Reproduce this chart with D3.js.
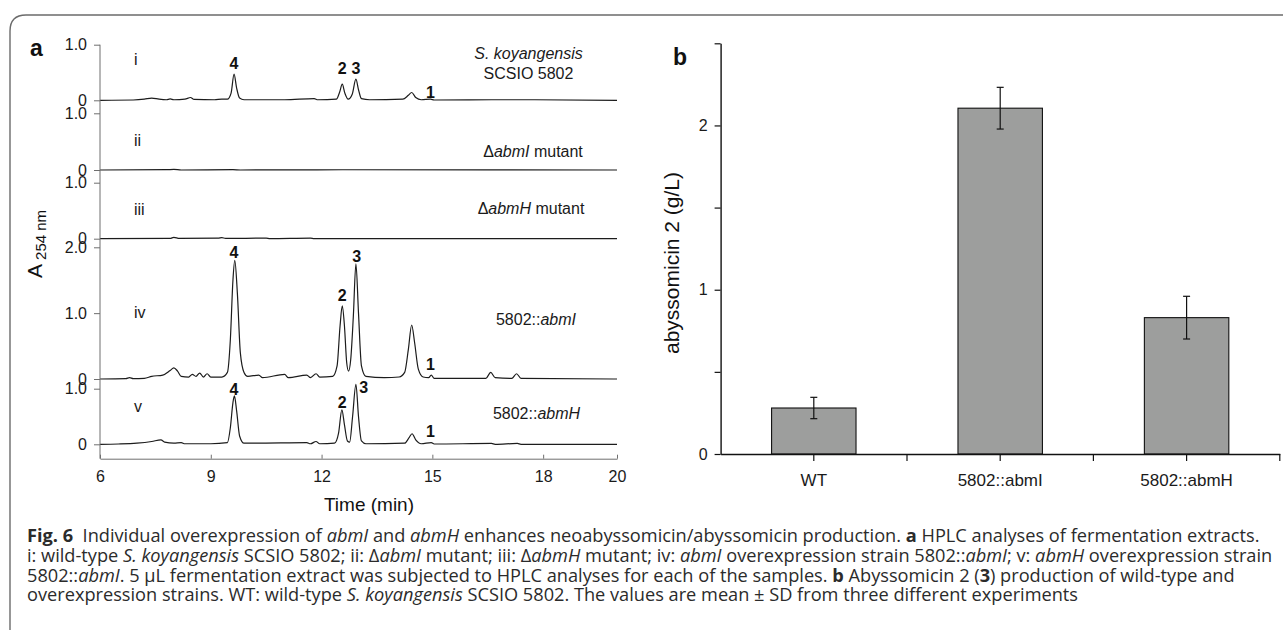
<!DOCTYPE html>
<html>
<head>
<meta charset="utf-8">
<script src="https://cdn.jsdelivr.net/npm/d3@7"></script>
<style>
  body { margin: 0; background: #fff; }
  svg { display: block; }
</style>
</head>
<body>
<svg width="1283" height="630"></svg>
<script>
// ---- panel a : HPLC traces, [time (min), A254]
var timeTicks = [6, 9, 12, 15, 18, 20]
var traceI = [[6, 0], [6.9, 0.005], [7.2, 0.02], [7.4, 0.04], [7.6, 0.02], [7.8, 0.01], [7.9, 0.025], [8.0, 0.01],
  [8.3, 0.02], [8.45, 0.05], [8.55, 0.015], [9.1, 0.01], [9.3, 0.02], [9.45, 0.02], [9.55, 0.13], [9.63, 0.47],
  [9.7, 0.22], [9.78, 0.04], [9.9, 0.01], [11.0, 0.01], [11.8, 0.03], [11.9, 0.01], [12.4, 0.02], [12.49, 0.15],
  [12.56, 0.29], [12.63, 0.13], [12.72, 0.02], [12.83, 0.11], [12.93, 0.38], [13.0, 0.19], [13.08, 0.03], [13.3, 0.01],
  [14.2, 0.02], [14.35, 0.09], [14.44, 0.14], [14.55, 0.05], [14.7, 0.01], [14.95, 0.02], [15.05, 0.005],
  [16.6, 0.01], [17.3, 0.01], [20, 0]]
var traceII = [[6, 0], [7.8, 0.005], [8.0, 0.01], [8.2, 0], [9.6, 0.005], [9.8, 0], [12.6, 0.004], [20, 0]]
var traceIII = [[6, 0], [7.9, 0.005], [8.0, 0.025], [8.15, 0.005], [9.2, 0.01], [9.3, 0.02], [9.4, 0.005],
  [10.5, 0.01], [10.6, 0], [11.7, 0.01], [11.8, 0], [20, 0]]
var traceIV = [[6, 0], [6.7, 0.005], [6.8, 0.02], [6.9, 0.005], [7.2, 0.01], [7.4, 0.04], [7.7, 0.06], [7.9, 0.13],
  [8.0, 0.17], [8.1, 0.12], [8.2, 0.04], [8.4, 0.03], [8.5, 0.07], [8.6, 0.04], [8.7, 0.09], [8.8, 0.03], [8.9, 0.08],
  [9.0, 0.03], [9.3, 0.03], [9.45, 0.1], [9.53, 0.6], [9.6, 1.5], [9.65, 1.8], [9.72, 1.3], [9.8, 0.4], [9.9, 0.1],
  [10.0, 0.04], [10.3, 0.06], [10.4, 0.02], [11.0, 0.07], [11.1, 0.02], [11.6, 0.06], [11.7, 0.02], [11.85, 0.08],
  [11.95, 0.03], [12.3, 0.04], [12.42, 0.2], [12.5, 0.8], [12.56, 1.11], [12.62, 0.8], [12.68, 0.25], [12.73, 0.12],
  [12.79, 0.3], [12.86, 0.95], [12.93, 1.75], [13.0, 1.0], [13.08, 0.2], [13.2, 0.04], [13.7, 0.02], [14.1, 0.03],
  [14.25, 0.1], [14.35, 0.45], [14.44, 0.82], [14.52, 0.55], [14.62, 0.15], [14.75, 0.03], [14.9, 0.02], [14.97, 0.06],
  [15.05, 0.01], [16.45, 0.01], [16.58, 0.1], [16.7, 0.02], [17.15, 0.01], [17.28, 0.08], [17.4, 0.01], [20, 0]]
var traceV = [[6, 0], [6.5, 0.005], [7.0, 0.02], [7.4, 0.05], [7.65, 0.08], [7.75, 0.04], [8.0, 0.02], [8.2, 0.03],
  [8.3, 0.01], [9.0, 0.01], [9.45, 0.03], [9.53, 0.3], [9.6, 0.75], [9.64, 0.87], [9.7, 0.6], [9.78, 0.15], [9.9, 0.02],
  [10.2, 0.02], [11.6, 0.03], [11.7, 0.01], [11.85, 0.05], [11.95, 0.01], [12.35, 0.02], [12.46, 0.2], [12.55, 0.62],
  [12.62, 0.35], [12.7, 0.06], [12.76, 0.04], [12.84, 0.5], [12.93, 1.08], [13.0, 0.5], [13.08, 0.06], [13.2, 0.01],
  [14.25, 0.02], [14.37, 0.12], [14.45, 0.19], [14.55, 0.08], [14.7, 0.01], [14.97, 0.03], [15.05, 0.005],
  [16.6, 0.015], [16.7, 0], [17.3, 0.015], [17.4, 0], [20, 0]]

var traceNames = ['i', 'ii', 'iii', 'iv', 'v']
var traceTicks = [[0, 1], [0, 1], [0, 1], [0, 1, 2], [0, 1]]
var traceTickLabels = [['0', '1.0'], ['0', '1.0'], ['0', '1.0'], ['0', '1.0', '2.0'], ['0', '1.0']]
var strainLabels = [['<i>S. koyangensis</i>', 'SCSIO 5802'], ['\u0394<i>abmI</i> mutant'], ['\u0394<i>abmH</i> mutant'],
  ['5802::<i>abmI</i>'], ['5802::<i>abmH</i>']]
// [label, time, A254 at label baseline]
var peakLabelsI = [['4', 9.63, 0.56], ['2', 12.56, 0.47], ['3', 12.93, 0.47], ['1', 14.95, 0.04]]
var peakLabelsIV = [['4', 9.63, 1.84], ['2', 12.56, 1.18], ['3', 12.95, 1.77], ['1', 14.95, 0.14]]
var peakLabelsV = [['4', 9.63, 0.885], ['2', 12.56, 0.66], ['3', 13.14, 0.92], ['1', 14.95, 0.13]]

// ---- panel b : abyssomicin 2 yield
var strains = ['WT', '5802::abmI', '5802::abmH']
var yields = [0.28, 2.105, 0.83]
var yieldSD = [0.065, 0.127, 0.13]
var yieldTicks = [0, 0.5, 1, 1.5, 2, 2.5]

var captionLines = [
  '<b>Fig. 6</b>  Individual overexpression of <i>abmI</i> and <i>abmH</i> enhances neoabyssomicin/abyssomicin production. <b>a</b> HPLC analyses of fermentation extracts.',
  'i: wild-type <i>S. koyangensis</i> SCSIO 5802; ii: \u0394<i>abmI</i> mutant; iii: \u0394<i>abmH</i> mutant; iv: <i>abmI</i> overexpression strain 5802::<i>abmI</i>; v: <i>abmH</i> overexpression strain',
  '5802::<i>abmI</i>. 5 \u00b5L fermentation extract was subjected to HPLC analyses for each of the samples. <b>b</b> Abyssomicin 2 (<b>3</b>) production of wild-type and',
  'overexpression strains. WT: wild-type <i>S. koyangensis</i> SCSIO 5802. The values are mean \u00b1 SD from three different experiments'
]

var font = '"Liberation Sans", Arial, sans-serif'
var svg = d3.select('svg')

// writes '<i>..</i>' / '<b>..</b>' marked text as tspans
var richText = (sel, str) => {
  var it = false, bd = false
  str.split(/(<\/?[ib]>)/).forEach(part => {
    if (part === '<i>') it = true
    else if (part === '</i>') it = false
    else if (part === '<b>') bd = true
    else if (part === '</b>') bd = false
    else if (part.length) {
      sel.append('tspan').text(part)
        .attr('font-style', it ? 'italic' : null)
        .attr('font-weight', bd ? 'bold' : null)
    }
  })
}

// frame
svg.append('path')
  .attr('d', 'M10,630 V31 Q10,15 26,15 H1283')
  .attr('fill', 'none').attr('stroke', '#6b6b6b').attr('stroke-width', 1.4)

// ---------------- panel a
var a = svg.append('g').attr('font-family', font)
var x = d3.scaleLinear().domain([6, 20]).range([100, 617])
var bandBase = [100.3, 170, 238.7, 379, 444.3]
var bandTop = [44.7, 113.3, 182.7, 247.3, 388.7]
var traces = [traceI, traceII, traceIII, traceIV, traceV]
var peakLabels = [peakLabelsI, [], [], peakLabelsIV, peakLabelsV]
var strainX = [528.5, 533, 531, 536, 536.5]
var strainY = [[58.5, 79], [157], [214], [325], [418.5]]
var axisGrey = '#6e6e6e'

traces.forEach((tr, k) => {
  var maxV = d3.max(traceTicks[k])
  var y = d3.scaleLinear().domain([0, maxV]).range([bandBase[k], bandTop[k]])

  var ax = a.append('g').attr('transform', 'translate(100,0)')
    .call(d3.axisLeft(y).tickValues(traceTicks[k])
      .tickFormat((d, i) => traceTickLabels[k][i]).tickSize(6).tickSizeOuter(0).tickPadding(7))
  ax.select('.domain').remove()
  ax.selectAll('line').attr('stroke', axisGrey)
  ax.selectAll('text').attr('font-size', 16).attr('font-family', font).attr('fill', '#1a1a1a')

  a.append('path').datum(tr)
    .attr('fill', 'none').attr('stroke', '#1c1c1c').attr('stroke-width', 1.2).attr('stroke-linejoin', 'round')
    .attr('d', d3.line().x(d => x(d[0])).y(d => y(d[1])).curve(d3.curveMonotoneX))

  a.append('text').attr('x', 134).attr('y', bandBase[k] - (k === 3 ? 61.5 : k === 4 ? 32 : k === 0 ? 35.3 : 24))
    .attr('font-size', 16).attr('fill', '#1a1a1a').text(traceNames[k])

  strainLabels[k].forEach((s, j) => {
    var t = a.append('text').attr('x', strainX[k]).attr('y', strainY[k][j])
      .attr('text-anchor', 'middle').attr('font-size', 16).attr('fill', '#1a1a1a')
    richText(t, s)
  })

  a.selectAll(null).data(peakLabels[k]).enter().append('text')
    .attr('x', d => x(d[1])).attr('y', d => y(d[2]))
    .attr('text-anchor', 'middle').attr('font-size', 16).attr('font-weight', 'bold')
    .attr('fill', '#111').text(d => d[0])
})

// continuous y axis line and time axis
a.append('line').attr('x1', 100).attr('x2', 100).attr('y1', 44.7).attr('y2', 458.7)
  .attr('stroke', axisGrey)
var xa = a.append('g').attr('transform', 'translate(0,458.7)')
  .call(d3.axisBottom(x).tickValues(timeTicks).tickSize(-4).tickSizeOuter(0).tickPadding(11.5))
xa.select('.domain').attr('stroke', axisGrey)
xa.selectAll('line').attr('stroke', axisGrey)
xa.selectAll('text').attr('font-size', 16).attr('font-family', font).attr('fill', '#1a1a1a')

a.append('text').attr('x', 369).attr('y', 511).attr('text-anchor', 'middle')
  .attr('font-size', 19).attr('fill', '#111').text('Time (min)')

var yt = a.append('text').attr('transform', 'translate(42,244) rotate(-90)')
  .attr('text-anchor', 'middle').attr('fill', '#111')
yt.append('tspan').attr('font-size', 21).text('A')
yt.append('tspan').attr('font-size', 15).attr('dy', 4).text(' 254 nm')

a.append('text').attr('x', 30).attr('y', 55.5).attr('font-size', 23).attr('font-weight', 'bold')
  .attr('fill', '#111').text('a')

// ---------------- panel b
var b = svg.append('g').attr('font-family', font)
var xb = d3.scaleBand().domain(strains).range([720.6, 1279.8]).padding(0)
var yb = d3.scaleLinear().domain([0, 2.5]).range([454, 43.3])
var barW = xb.bandwidth() * 0.453

b.selectAll('rect').data(strains).enter().append('rect')
  .attr('x', d => xb(d) + xb.bandwidth() / 2 - barW / 2)
  .attr('y', (d, i) => yb(yields[i]))
  .attr('width', barW)
  .attr('height', (d, i) => yb(0) - yb(yields[i]))
  .attr('fill', '#9d9e9d').attr('stroke', '#111').attr('stroke-width', 1.1)

var err = b.selectAll('g.err').data(strains).enter().append('g').attr('class', 'err')
  .attr('stroke', '#111').attr('stroke-width', 1.2)
err.append('line')
  .attr('x1', d => xb(d) + xb.bandwidth() / 2).attr('x2', d => xb(d) + xb.bandwidth() / 2)
  .attr('y1', (d, i) => yb(yields[i] + yieldSD[i])).attr('y2', (d, i) => yb(yields[i] - yieldSD[i]))
err.append('line')
  .attr('x1', d => xb(d) + xb.bandwidth() / 2 - 3.5).attr('x2', d => xb(d) + xb.bandwidth() / 2 + 3.5)
  .attr('y1', (d, i) => yb(yields[i] + yieldSD[i])).attr('y2', (d, i) => yb(yields[i] + yieldSD[i]))
err.append('line')
  .attr('x1', d => xb(d) + xb.bandwidth() / 2 - 3.5).attr('x2', d => xb(d) + xb.bandwidth() / 2 + 3.5)
  .attr('y1', (d, i) => yb(yields[i] - yieldSD[i])).attr('y2', (d, i) => yb(yields[i] - yieldSD[i]))

var yba = b.append('g').attr('transform', 'translate(720.6,0)')
  .call(d3.axisLeft(yb).tickValues(yieldTicks).tickFormat(d => Number.isInteger(d) ? d : '')
    .tickSize(6).tickSizeOuter(0).tickPadding(7))
yba.select('.domain').attr('stroke', '#111').attr('stroke-width', 1.4)
yba.selectAll('line').attr('stroke', '#111').attr('stroke-width', 1.2)
yba.selectAll('text').attr('font-size', 16).attr('font-family', font).attr('fill', '#1a1a1a')

var xba = b.append('g').attr('transform', 'translate(0,454)')
  .call(d3.axisBottom(xb).tickSize(7).tickSizeOuter(0).tickPadding(13))
xba.select('.domain').attr('stroke', '#111').attr('stroke-width', 1.6)
xba.selectAll('line').attr('stroke', '#111').attr('stroke-width', 1.2)
xba.selectAll('text').attr('font-size', 17).attr('font-family', font).attr('fill', '#1a1a1a')
// separators between the categories
xba.selectAll('line.sep').data(strains.slice(1).concat(['end'])).enter().append('line').attr('class', 'sep')
  .attr('x1', d => d === 'end' ? xb.range()[1] : xb(d)).attr('x2', d => d === 'end' ? xb.range()[1] : xb(d))
  .attr('y1', 0).attr('y2', 7).attr('stroke', '#111').attr('stroke-width', 1.2)

b.append('text').attr('transform', 'translate(679,263) rotate(-90)').attr('text-anchor', 'middle')
  .attr('font-size', 21).attr('fill', '#111').text('abyssomicin 2 (g/L)')
b.append('text').attr('x', 673).attr('y', 65).attr('font-size', 23).attr('font-weight', 'bold')
  .attr('fill', '#111').text('b')

// ---------------- caption
var cap = svg.append('g').attr('font-family', '"Open Sans", "Noto Sans", sans-serif').attr('fill', '#2b2b2b')
var capY = [541.5, 561.5, 581.5, 601]
var capLines = captionLines.map((s, i) => {
  var t = cap.append('text').attr('x', 27).attr('y', capY[i]).attr('font-size', 16).attr('xml:space', 'preserve')
  richText(t, s)
  return t
})
var natural = capLines[1].node().getComputedTextLength()
var capSize = 16 * 1246 / natural
capLines.forEach(t => t.attr('font-size', capSize))
</script>
</body>
</html>
